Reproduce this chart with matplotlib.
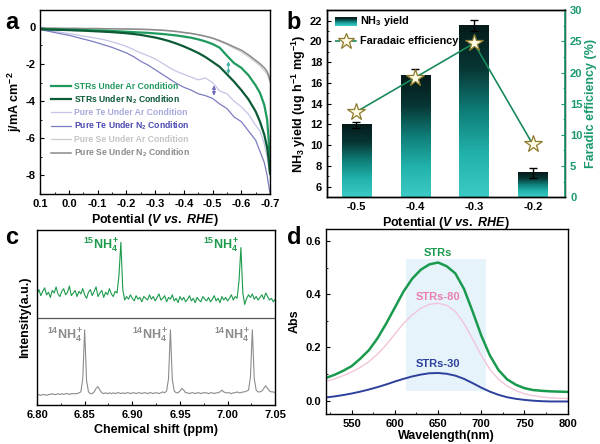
import numpy as np
import matplotlib
matplotlib.use("Agg")
from matplotlib import pyplot as plt
from matplotlib.colors import LinearSegmentedColormap
from matplotlib.patches import Rectangle
from matplotlib.ticker import MultipleLocator, FormatStrFormatter

plt.rcParams['font.family'] = ['Liberation Sans', 'DejaVu Sans']
plt.rcParams['font.weight'] = 'bold'
plt.rcParams['axes.labelweight'] = 'bold'
plt.rcParams['axes.unicode_minus'] = False
plt.rcParams['mathtext.fontset'] = 'custom'
plt.rcParams['mathtext.rm'] = 'Liberation Sans:bold'
plt.rcParams['mathtext.it'] = 'Liberation Sans:italic:bold'
plt.rcParams['mathtext.bf'] = 'Liberation Sans:bold'
plt.rcParams['mathtext.default'] = 'rm'
plt.rcParams['axes.linewidth'] = 1.0

# ---- panel a: LSV curves ----
pot = [0.1, 0.075, 0.05, 0.025, 0.0, -0.025, -0.05, -0.075, -0.1, -0.125, -0.15, -0.175,
       -0.2, -0.225, -0.25, -0.275, -0.3, -0.325, -0.35, -0.375, -0.4, -0.425, -0.45, -0.475,
       -0.5, -0.525, -0.55, -0.575, -0.6, -0.625, -0.65, -0.665, -0.68, -0.69, -0.695, -0.7]
strs_ar = [-0.10, -0.12, -0.13, -0.14, -0.15, -0.16, -0.17, -0.18, -0.19, -0.20, -0.22, -0.24,
           -0.26, -0.28, -0.30, -0.32, -0.35, -0.38, -0.42, -0.46, -0.52, -0.58, -0.67, -0.78,
           -0.92, -1.12, -1.55, -1.95, -2.2, -2.6, -3.15, -3.55, -4.2, -5.0, -6.0, -7.6]
strs_n2 = [-0.12, -0.14, -0.15, -0.16, -0.17, -0.19, -0.20, -0.22, -0.24, -0.26, -0.28, -0.31,
           -0.34, -0.38, -0.43, -0.50, -0.57, -0.66, -0.77, -0.90, -1.05, -1.22, -1.40, -1.62,
           -1.88, -2.15, -2.55, -2.95, -3.4, -3.9, -4.55, -5.1, -5.8, -6.5, -7.1, -7.9]
te_ar = [-0.12, -0.18, -0.24, -0.30, -0.36, -0.42, -0.50, -0.56, -0.62, -0.70, -0.80, -0.92,
         -1.05, -1.22, -1.40, -1.55, -1.72, -1.95, -2.2, -2.4, -2.55, -2.7, -2.85, -2.75,
         -3.0, -3.45, -3.6, -4.0, -4.3, -4.7, -5.3, -5.6, -6.3, -7.0, -7.5, -8.0]
te_n2 = [-0.15, -0.22, -0.30, -0.38, -0.45, -0.55, -0.65, -0.75, -0.86, -0.98, -1.10, -1.25,
         -1.40, -1.60, -1.85, -2.05, -2.3, -2.55, -2.8, -3.05, -3.25, -3.4, -3.6, -3.7,
         -3.85, -4.15, -4.4, -4.85, -5.1, -5.6, -6.1, -6.7, -7.3, -8.0, -8.5, -8.95]
se_ar = [-0.05, -0.06, -0.06, -0.07, -0.07, -0.07, -0.08, -0.08, -0.08, -0.09, -0.09, -0.10,
         -0.10, -0.11, -0.12, -0.13, -0.15, -0.17, -0.20, -0.24, -0.30, -0.35, -0.42, -0.52,
         -0.62, -0.78, -0.95, -1.15, -1.35, -1.6, -1.9, -2.1, -2.35, -2.55, -2.75, -3.0]
se_n2 = [-0.06, -0.07, -0.07, -0.08, -0.08, -0.08, -0.09, -0.09, -0.09, -0.10, -0.10, -0.11,
         -0.11, -0.12, -0.13, -0.14, -0.16, -0.18, -0.21, -0.25, -0.30, -0.35, -0.42, -0.50,
         -0.60, -0.74, -0.90, -1.08, -1.25, -1.5, -1.8, -1.98, -2.2, -2.4, -2.6, -2.9]
lsv_labels = ['STRs Under Ar Condition', 'STRs Under N$_2$ Condition',
              'Pure Te Under Ar Condition', 'Pure Te Under N$_2$ Condition',
              'Pure Se Under Ar Condition', 'Pure Se Under N$_2$ Condition']
lsv_colors = ['#1f9a5e', '#0c5a36', '#c4c4e6', '#7c7cc2', '#cdcdcd', '#8a8a8a']
lsv_text_colors = ['#1f9a5e', '#0c5a36', '#a8a8dc', '#4a4ab0', '#c4c4c4', '#8a8a8a']

# ---- panel b: NH3 yield and FE ----
potentials_b = ['-0.5', '-0.4', '-0.3', '-0.2']
nh3_yield = [11.95, 16.73, 21.52, 7.37]
nh3_err = [0.3, 0.6, 0.55, 0.48]
fe = [13.7, 19.2, 24.7, 8.45]

# ---- panel c: NMR ----
ppm = np.linspace(6.80, 7.05, 126)
nmr_15n = [1.27, 1.32, 1.25, 1.30, 1.34, 1.26, 1.29, 1.23, 1.31, 1.28,
           1.35, 1.27, 1.24, 1.30, 1.33, 1.26, 1.29, 1.36, 1.25, 1.28,
           1.31, 1.24, 1.30, 1.27, 1.33, 1.26, 1.22, 1.29, 1.32, 1.25,
           1.30, 1.35, 1.24, 1.28, 1.31, 1.23, 1.29, 1.26, 1.33, 1.27,
           1.24, 1.30, 1.28, 1.48, 1.86, 1.32, 1.20, 1.24, 1.21, 1.26,
           1.22, 1.19, 1.25, 1.21, 1.23, 1.18, 1.24, 1.22, 1.20, 1.26,
           1.21, 1.24, 1.19, 1.23, 1.27, 1.20, 1.22, 1.25, 1.18, 1.23,
           1.21, 1.26, 1.19, 1.22, 1.17, 1.24, 1.20, 1.23, 1.18, 1.21,
           1.25, 1.19, 1.22, 1.17, 1.23, 1.20, 1.18, 1.24, 1.21, 1.19,
           1.23, 1.18, 1.21, 1.25, 1.19, 1.22, 1.17, 1.24, 1.20, 1.23,
           1.19, 1.22, 1.26, 1.20, 1.24, 1.22, 1.42, 1.80, 1.28, 1.15,
           1.22, 1.26, 1.23, 1.27, 1.21, 1.24, 1.20, 1.23, 1.26, 1.21,
           1.28, 1.24, 1.20, 1.22, 1.18, 1.21]
nmr_14n = [0.11, 0.12, 0.11, 0.12, 0.12, 0.11, 0.12, 0.12, 0.13, 0.12,
           0.12, 0.13, 0.12, 0.13, 0.12, 0.13, 0.13, 0.12, 0.13, 0.13,
           0.13, 0.13, 0.14, 0.15, 0.30, 0.86, 0.28, 0.15, 0.13, 0.13,
           0.15, 0.19, 0.21, 0.17, 0.14, 0.13, 0.14, 0.13, 0.14, 0.13,
           0.14, 0.13, 0.14, 0.14, 0.13, 0.14, 0.13, 0.14, 0.14, 0.13,
           0.14, 0.14, 0.13, 0.14, 0.14, 0.13, 0.14, 0.14, 0.13, 0.14,
           0.14, 0.13, 0.14, 0.14, 0.13, 0.14, 0.15, 0.14, 0.16, 0.30,
           0.86, 0.29, 0.16, 0.14, 0.14, 0.16, 0.19, 0.17, 0.14, 0.14,
           0.13, 0.14, 0.14, 0.13, 0.14, 0.14, 0.13, 0.14, 0.14, 0.14,
           0.13, 0.14, 0.14, 0.13, 0.14, 0.14, 0.15, 0.17, 0.15, 0.14,
           0.14, 0.14, 0.13, 0.14, 0.14, 0.15, 0.14, 0.14, 0.15, 0.15,
           0.16, 0.17, 0.32, 0.86, 0.30, 0.17, 0.15, 0.15, 0.16, 0.19,
           0.22, 0.19, 0.16, 0.15, 0.15, 0.14]
peaks_15n = [6.888, 7.014]
peaks_14n = [6.850, 6.940, 7.026]

# ---- panel d: UV-vis ----
wl = list(range(520, 801, 10))
abs_strs = [0.085, 0.097, 0.112, 0.13, 0.158, 0.19, 0.235, 0.29, 0.35, 0.41, 0.458, 0.492,
            0.512, 0.519, 0.505, 0.478, 0.42, 0.335, 0.245, 0.17, 0.115, 0.08, 0.06, 0.047,
            0.04, 0.037, 0.035, 0.034, 0.033]
abs_strs80 = [0.072, 0.082, 0.094, 0.108, 0.125, 0.147, 0.175, 0.21, 0.25, 0.29, 0.322, 0.347,
              0.362, 0.366, 0.358, 0.335, 0.29, 0.232, 0.17, 0.118, 0.08, 0.055, 0.038, 0.026,
              0.019, 0.014, 0.011, 0.009, 0.008]
abs_strs30 = [0.012, 0.016, 0.021, 0.027, 0.034, 0.042, 0.051, 0.061, 0.072, 0.082, 0.091, 0.098,
              0.103, 0.104, 0.101, 0.094, 0.082, 0.066, 0.049, 0.034, 0.022, 0.013, 0.007, 0.003,
              0.0, -0.002, -0.003, -0.003, -0.003]

fig = plt.figure(figsize=(6, 4.44), dpi=100)

def style(ax):
    ax.tick_params(which='both', direction='in', labelsize=8)
    ax.tick_params(which='major', length=3)
    ax.tick_params(which='minor', length=1.6)

# panel a
ax = fig.add_axes([0.067, 0.563, 0.383, 0.414])
series = [strs_ar, strs_n2, te_ar, te_n2, se_ar, se_n2]
widths = [1.6, 1.6, 0.9, 0.9, 0.9, 1.1]
order = [4, 5, 2, 3, 0, 1]
lines = {}
for k in order:
    lines[k], = ax.plot(pot, series[k], color=lsv_colors[k], lw=widths[k], label=lsv_labels[k])
i55 = pot.index(-0.55)
ax.annotate('', xy=(-0.555, strs_n2[i55] - 0.15), xytext=(-0.555, strs_ar[i55] - 0.15),
            arrowprops=dict(arrowstyle='<|-|>', color='#45b0a8', lw=0.8, mutation_scale=5))
i50 = pot.index(-0.5)
ax.annotate('', xy=(-0.505, te_n2[i50]), xytext=(-0.505, te_ar[i50]),
            arrowprops=dict(arrowstyle='<|-|>', color='#6a6ab8', lw=0.8, mutation_scale=5))
ax.set_xlim(0.1, -0.7)
ax.set_ylim(-9, 0.9)
ax.xaxis.set_major_locator(MultipleLocator(0.1))
ax.xaxis.set_minor_locator(MultipleLocator(0.05))
ax.xaxis.set_major_formatter(FormatStrFormatter('%.1f'))
ax.yaxis.set_major_locator(MultipleLocator(2))
ax.yaxis.set_minor_locator(MultipleLocator(1))
style(ax)
ax.set_xlabel(r'Potential ($\it{V\ vs.\ RHE}$)', fontsize=9, labelpad=2)
ax.set_ylabel('j/mA cm$^{-2}$', fontsize=9, labelpad=1)
leg = ax.legend(handles=[lines[k] for k in range(6)], loc='upper left',
                bbox_to_anchor=(0.03, 0.63), frameon=False, fontsize=6.2,
                handlelength=2.4, labelspacing=0.3, handletextpad=0.3, borderaxespad=0)
for t, c in zip(leg.get_texts(), lsv_text_colors):
    t.set_color(c)
fig.text(0.008, 0.975, 'a', fontsize=17, fontweight='bold', va='top')

# panel b
green = '#1a9a6c'
axb = fig.add_axes([0.545, 0.556, 0.397, 0.421])
xb = np.arange(len(nh3_yield))
bw = 0.5
grad = LinearSegmentedColormap.from_list('bar', ['#3ccac4', '#22b2ac', '#0f7e78', '#073634', '#041b1a'])
bars = axb.bar(xb, nh3_yield, width=bw, color='none', edgecolor='none', zorder=2)
for b, h in zip(bars, nh3_yield):
    axb.imshow(np.linspace(0, 1, 256).reshape(-1, 1), cmap=grad, origin='lower', aspect='auto',
               extent=[b.get_x(), b.get_x() + bw, 5, h], zorder=2)
axb.errorbar(xb, nh3_yield, yerr=nh3_err, fmt='none', ecolor='black', elinewidth=1,
             capsize=3, capthick=1, zorder=3)
axb.imshow(np.linspace(0, 1, 64).reshape(-1, 1), cmap=grad, origin='lower', aspect='auto',
           extent=[0.034, 0.126, 0.918, 0.963], transform=axb.transAxes, zorder=4)
axb.text(0.139, 0.941, 'NH$_3$ yield', transform=axb.transAxes, fontsize=7.8, va='center')
axb.text(0.139, 0.834, 'Faradaic efficiency', transform=axb.transAxes, fontsize=7.8, va='center')
axb.set_xlim(-0.5, 3.55)
axb.set_ylim(5, 23)
axb.set_xticks(xb)
axb.set_xticklabels(potentials_b)
axb.yaxis.set_major_locator(MultipleLocator(2))
axb.yaxis.set_minor_locator(MultipleLocator(1))
style(axb)
axb.tick_params(axis='x', length=0)
axb.set_xlabel(r'Potential ($\it{V\ vs.\ RHE}$)', fontsize=9, labelpad=2)
axb.set_ylabel('NH$_3$ yield (ug h$^{-1}$ mg$^{-1}$)', fontsize=9, labelpad=1)

ax2 = axb.twinx()
ax2.plot(xb, fe, color='#1a8a5c', lw=1.2, marker='*', ms=13, mfc='#fffbe4', mec='#8c7a2c',
         mew=0.9, zorder=5)
ax2.plot([0.034, 0.126], [0.834, 0.834], transform=ax2.transAxes, color='#1a8a5c', lw=1.2,
         ls=(0, (3, 2)))
ax2.plot([0.08], [0.834], transform=ax2.transAxes, marker='*', ms=12, mfc='#fffbe4',
         mec='#8c7a2c', mew=0.9, ls='none')
ax2.set_ylim(0, 30)
ax2.yaxis.set_major_locator(MultipleLocator(5))
ax2.yaxis.set_minor_locator(MultipleLocator(2.5))
ax2.tick_params(which='both', direction='in', labelsize=8, colors=green)
ax2.tick_params(which='major', length=3)
ax2.tick_params(which='minor', length=1.6)
ax2.spines['right'].set_color(green)
ax2.spines['right'].set_linewidth(1.2)
ax2.set_ylabel('Faradic efficiency (%)', fontsize=9, color=green, labelpad=2)
fig.text(0.478, 0.975, 'b', fontsize=17, fontweight='bold', va='top')

# panel c
axc = fig.add_axes([0.0617, 0.0878, 0.397, 0.394])
axc.plot(ppm, nmr_15n, color='#1d9a4c', lw=0.8)
axc.plot(ppm, nmr_14n, color='#8c8c8c', lw=0.8)
axc.axhline(1.0, color='#555555', lw=0.9)
for p in peaks_15n:
    axc.text(p - 0.0015, 1.83, '$^{15}$NH$_4^+$', color='#1d9a4c', fontsize=9, ha='right', va='center')
for p in peaks_14n:
    axc.text(p - 0.0015, 0.8, '$^{14}$NH$_4^+$', color='#8c8c8c', fontsize=9, ha='right', va='center')
axc.set_xlim(6.80, 7.05)
axc.set_ylim(0, 2)
axc.set_yticks([])
axc.xaxis.set_major_locator(MultipleLocator(0.05))
axc.xaxis.set_minor_locator(MultipleLocator(0.025))
axc.xaxis.set_major_formatter(FormatStrFormatter('%.2f'))
style(axc)
axc.set_xlabel('Chemical shift (ppm)', fontsize=9, labelpad=3)
axc.set_ylabel('Intensity(a.u.)', fontsize=9, labelpad=4)
fig.text(0.008, 0.49, 'c', fontsize=17, fontweight='bold', va='top')

# panel d
axd = fig.add_axes([0.543, 0.0676, 0.403, 0.4167])
axd.add_patch(Rectangle((613, 0.035), 93, 0.496, facecolor='#e6f3fa', edgecolor='none', zorder=0))
axd.plot(wl, abs_strs80, color='#f2c4da', lw=1.0)
axd.plot(wl, abs_strs30, color='#2d409c', lw=1.4)
axd.plot(wl, abs_strs, color='#1a9a4e', lw=1.8)
axd.text(650, 0.556, 'STRs', color='#1a9a4e', fontsize=8, ha='center', va='center')
axd.text(650, 0.388, 'STRs-80', color='#ea7fae', fontsize=8, ha='center', va='center')
axd.text(650, 0.137, 'STRs-30', color='#2d409c', fontsize=8, ha='center', va='center')
axd.set_xlim(520, 800)
axd.set_ylim(-0.05, 0.645)
axd.xaxis.set_major_locator(MultipleLocator(50))
axd.xaxis.set_minor_locator(MultipleLocator(25))
axd.yaxis.set_major_locator(MultipleLocator(0.2))
axd.yaxis.set_minor_locator(MultipleLocator(0.1))
axd.yaxis.set_major_formatter(FormatStrFormatter('%.1f'))
style(axd)
axd.set_xlabel('Wavelength(nm)', fontsize=9, labelpad=1)
axd.set_ylabel('Abs', fontsize=9, labelpad=3)
fig.text(0.478, 0.49, 'd', fontsize=17, fontweight='bold', va='top')

fig.savefig('out.png', dpi=100)
